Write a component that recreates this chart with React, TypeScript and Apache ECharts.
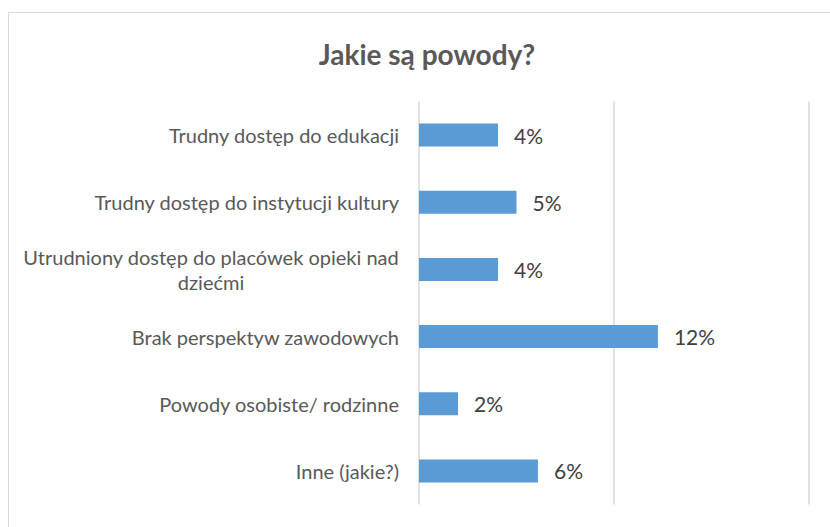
import React, { useEffect, useRef } from "react";
import * as echarts from "echarts";

const titleText = "Jakie są powody?";
const categories = [
  "Trudny dostęp do edukacji",
  "Trudny dostęp do instytucji kultury",
  "Utrudniony dostęp do placówek opieki nad\ndziećmi",
  "Brak perspektyw zawodowych",
  "Powody osobiste/ rodzinne",
  "Inne (jakie?)",
];
const values = [4.05, 5.0, 4.05, 12.25, 2.0, 6.1];
const axisMax = 20;
const axisInterval = 10;

export default function App() {
  const ref = useRef<HTMLDivElement>(null);
  useEffect(() => {
    if (!ref.current) return;
    const chart = echarts.init(ref.current, undefined, { renderer: "svg" });
    const catFont = { fontFamily: "Lato", fontSize: 20, color: "#595959", lineHeight: 25 };
    chart.setOption({
      animation: false,
      backgroundColor: "#ffffff",
      title: {
        text: titleText,
        left: 422,
        top: 35,
        textAlign: "center",
        textStyle: {
          fontFamily: "Lato",
          fontWeight: "bold",
          fontSize: 28,
          color: "#595959",
        },
      },
      graphic: [
        {
          type: "rect",
          shape: { x: 8.5, y: 12.5, width: 840, height: 540 },
          style: { fill: "none", stroke: "#d9d9d9", lineWidth: 1 },
          silent: true,
        },
      ],
      grid: { left: 419, right: 21, top: 101.5, bottom: 22.5, containLabel: false },
      xAxis: {
        type: "value",
        min: 0,
        max: axisMax,
        interval: axisInterval,
        axisLabel: { show: false },
        axisLine: { show: false },
        axisTick: { show: false },
        splitLine: { show: true, lineStyle: { color: "#d9d9d9", width: 1.5 } },
      },
      yAxis: {
        type: "category",
        inverse: true,
        data: categories,
        axisLine: { show: false },
        axisTick: { show: false },
        axisLabel: {
          margin: 20,
          ...catFont,
          align: "right",
          formatter: (v: string) =>
            v.indexOf("\n") >= 0
              ? v
                  .split("\n")
                  .map((l) => "{c|" + l + "}")
                  .join("\n")
              : v,
          rich: {
            c: { ...catFont, align: "center" },
          },
        },
      },
      series: [
        {
          type: "bar",
          data: values,
          barWidth: 23,
          itemStyle: { color: "#5b9bd5" },
          label: {
            show: true,
            position: "right",
            distance: 16,
            fontFamily: "Lato",
            fontSize: 21,
            color: "#404040",
            formatter: (p: any) => Math.round(p.value) + "%",
          },
        },
      ],
    });
    return () => chart.dispose();
  }, []);
  return (
    <div
      ref={ref}
      style={{ position: "fixed", left: 0, top: 0, width: 830, height: 527 }}
    />
  );
}
